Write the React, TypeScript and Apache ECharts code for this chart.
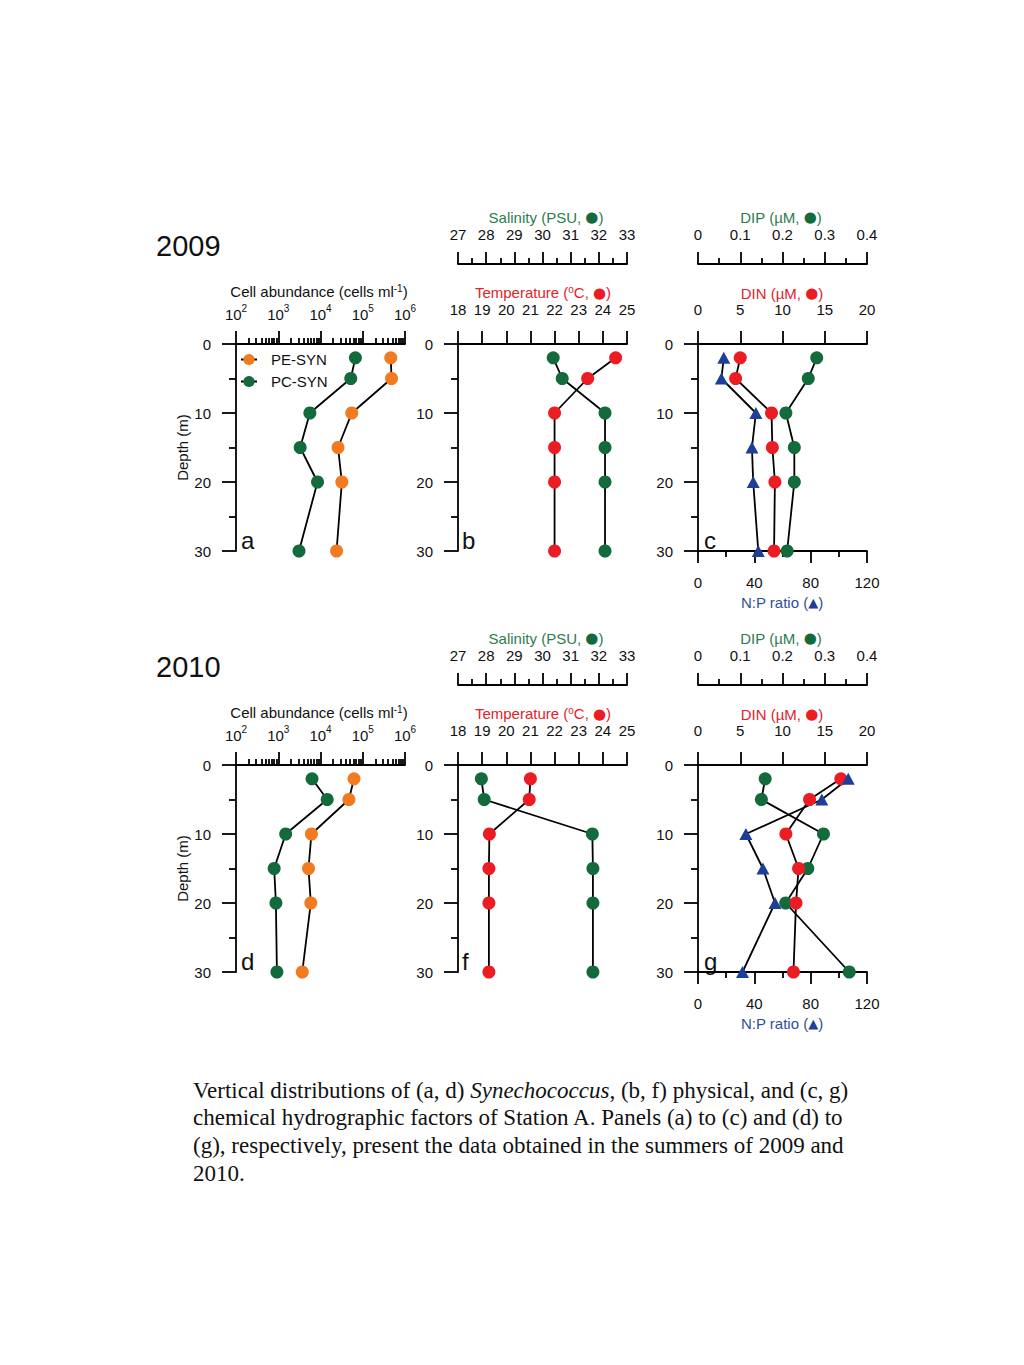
import React, { useEffect, useRef } from "react";
import * as echarts from "echarts";

// ---------------- data ----------------
const DEPTHS = [2, 5, 10, 15, 20, 30];

// 2009 (panels a, b, c)
const PE_SYN_2009 = [4.6e5, 4.8e5, 5.5e4, 2.6e4, 3.2e4, 2.4e4];
const PC_SYN_2009 = [6.7e4, 5.2e4, 5.6e3, 3.3e3, 8.5e3, 3.1e3];
const TEMP_2009 = [24.53, 23.37, 22.0, 22.0, 22.0, 22.0];
const SAL_2009 = [30.38, 30.7, 32.22, 32.22, 32.22, 32.22];
const DIN_2009 = [5.0, 4.45, 8.7, 8.8, 9.1, 9.0];
const DIP_2009 = [0.281, 0.261, 0.208, 0.228, 0.228, 0.211];
const NP_2009 = [18.3, 16.6, 41.1, 38.3, 39.2, 42.8];

// 2010 (panels d, f, g)
const PE_SYN_2010 = [6.2e4, 4.7e4, 6.1e3, 5.2e3, 5.9e3, 3.7e3];
const PC_SYN_2010 = [6.3e3, 1.44e4, 1.5e3, 8.0e2, 8.8e2, 9.3e2];
const TEMP_2010 = [21.0, 20.95, 19.3, 19.28, 19.28, 19.28];
const SAL_2010 = [27.83, 27.93, 31.77, 31.79, 31.79, 31.79];
const DIN_2010 = [16.9, 13.2, 10.4, 11.9, 11.6, 11.3];
const DIP_2010 = [0.159, 0.15, 0.297, 0.26, 0.2075, 0.358];
const NP_2010 = [106.7, 87.9, 34.0, 46.1, 54.7, 31.6];

// axis ranges
const CELL_DECADES = [2, 6]; // 10^2 .. 10^6
const TEMP_RANGE = [18, 25];
const SAL_RANGE = [27, 33];
const DIN_RANGE = [0, 20];
const DIP_RANGE = [0, 0.4];
const NP_RANGE = [0, 120];
const DEPTH_RANGE = [0, 30];

const YEARS = ["2009", "2010"];
const PANEL_LETTERS = [
  ["a", "b", "c"],
  ["d", "f", "g"],
];

const CAPTION_LINES = [
  "Vertical distributions of (a, d) {i|Synechococcus}, (b, f) physical, and (c, g)",
  "chemical hydrographic factors of Station A. Panels (a) to (c) and (d) to",
  "(g), respectively, present the data obtained in the summers of 2009 and",
  "2010.",
];

// ---------------- style ----------------
const SANS = "Liberation Sans, Arial, sans-serif";
const SERIF = "Liberation Serif, Times New Roman, serif";
const ORANGE = "#f27a21";
const GREEN = "#136b3b";
const RED = "#ec1c24";
const BLUE = "#1d3f98";
const GREEN_T = "#2b7d4e";
const RED_T = "#e2232b";
const BLUE_T = "#2d4f9c";
const AX = { color: "#000", width: 1.8 };
const FS = 15;

const COL_LEFT = [236, 458, 698];
const ROW_TOP = [344, 765];
const GW = 169;
const GH = 207;

function App() {
  const ref = useRef<HTMLDivElement>(null);
  useEffect(() => {
    if (!ref.current) return;
    const chart = echarts.init(ref.current, undefined, { renderer: "svg" });

    const grids: any[] = [];
    const xAxes: any[] = [];
    const yAxes: any[] = [];
    const series: any[] = [];
    const graphics: any[] = [];

    const mkX = (o: any) => ({
      type: "value",
      gridIndex: o.grid,
      position: o.pos,
      offset: o.offset || 0,
      min: o.min,
      max: o.max,
      interval: o.interval,
      axisLine: { show: o.line !== false, onZero: false, lineStyle: AX },
      axisTick: {
        show: true,
        length: o.tick,
        lineStyle: AX,
        ...(o.custom ? { customValues: o.custom } : {}),
      },
      minorTick: o.minor
        ? { show: true, splitNumber: o.minor[0], length: o.minor[1], lineStyle: AX }
        : { show: false },
      axisLabel: o.noLabel
        ? { show: false }
        : {
            show: true,
            fontSize: FS,
            color: "#111",
            fontFamily: SANS,
            margin: o.margin,
            formatter: o.fmt,
            rich: o.rich,
          },
      splitLine: { show: false },
      minorSplitLine: { show: false },
    });

    const pts = (xs: number[], f?: (v: number) => number) =>
      DEPTHS.map((d, i) => [f ? f(xs[i]) : xs[i], d]);

    const mkS = (name: string, xi: number, yi: number, data: number[][], color: string, sym = "circle") => ({
      type: "line",
      name,
      xAxisIndex: xi,
      yAxisIndex: yi,
      data,
      symbol: sym,
      symbolSize: sym === "triangle" ? [13, 12] : 13,
      showSymbol: true,
      clip: false,
      itemStyle: { color, opacity: 1 },
      lineStyle: { color: "#000", width: 1.8 },
      emphasis: { disabled: true },
    });

    for (let r = 0; r < 2; r++) {
      const top = ROW_TOP[r];
      const dy = top - 344;
      const pe = r === 0 ? PE_SYN_2009 : PE_SYN_2010;
      const pc = r === 0 ? PC_SYN_2009 : PC_SYN_2010;
      const temp = r === 0 ? TEMP_2009 : TEMP_2010;
      const sal = r === 0 ? SAL_2009 : SAL_2010;
      const din = r === 0 ? DIN_2009 : DIN_2010;
      const dip = r === 0 ? DIP_2009 : DIP_2010;
      const np = r === 0 ? NP_2009 : NP_2010;

      for (let c = 0; c < 3; c++) {
        const g = grids.length;
        grids.push({ left: COL_LEFT[c], top, width: GW, height: GH, containLabel: false });
        yAxes.push({
          type: "value",
          gridIndex: g,
          inverse: true,
          min: DEPTH_RANGE[0],
          max: DEPTH_RANGE[1],
          interval: 10,
          axisLine: { show: true, onZero: false, lineStyle: AX },
          axisTick: { show: true, length: 14, lineStyle: AX },
          minorTick: { show: true, splitNumber: 2, length: 7, lineStyle: AX },
          axisLabel: { fontSize: FS, color: "#111", fontFamily: SANS, margin: 25 },
          splitLine: { show: false },
          minorSplitLine: { show: false },
        });
        const yi = g;
        if (c === 0) {
          const minorVals: number[] = [];
          for (let e = CELL_DECADES[0]; e < CELL_DECADES[1]; e++)
            for (let k = 2; k <= 9; k++) minorVals.push(Math.log10(k * Math.pow(10, e)));
          const xiMain = xAxes.length;
          xAxes.push(
            mkX({
              grid: g, pos: "top", min: CELL_DECADES[0], max: CELL_DECADES[1], interval: 1, tick: 13, margin: 22,
              fmt: (v: number) => `{b|10}{s|${Math.round(v)}}`,
              rich: {
                b: { fontSize: FS, fontFamily: SANS, color: "#111", lineHeight: 19, verticalAlign: "bottom" },
                s: { fontSize: 10, fontFamily: SANS, color: "#111", lineHeight: 10, verticalAlign: "top" },
              },
            })
          );
          xAxes.push(
            mkX({ grid: g, pos: "top", min: CELL_DECADES[0], max: CELL_DECADES[1], interval: 1, tick: 6, line: false, noLabel: true, custom: minorVals })
          );
          series.push(mkS(r === 0 ? "PE-SYN" : "PE-SYN 2010", xiMain, yi, pts(pe, Math.log10), ORANGE));
          series.push(mkS(r === 0 ? "PC-SYN" : "PC-SYN 2010", xiMain, yi, pts(pc, Math.log10), GREEN));
        } else if (c === 1) {
          const xiT = xAxes.length;
          xAxes.push(mkX({ grid: g, pos: "top", min: TEMP_RANGE[0], max: TEMP_RANGE[1], interval: 1, tick: 13, margin: 27 }));
          const xiS = xAxes.length;
          xAxes.push(mkX({ grid: g, pos: "top", offset: 80, min: SAL_RANGE[0], max: SAL_RANGE[1], interval: 1, tick: 12, minor: [2, 6], margin: 22 }));
          series.push(mkS("Salinity " + YEARS[r], xiS, yi, pts(sal), GREEN));
          series.push(mkS("Temperature " + YEARS[r], xiT, yi, pts(temp), RED));
        } else {
          const xiN = xAxes.length;
          xAxes.push(mkX({ grid: g, pos: "top", min: DIN_RANGE[0], max: DIN_RANGE[1], interval: 5, tick: 13, margin: 27 }));
          const xiP = xAxes.length;
          xAxes.push(mkX({ grid: g, pos: "top", offset: 80, min: DIP_RANGE[0], max: DIP_RANGE[1], interval: 0.1, tick: 12, minor: [2, 6], margin: 22 }));
          const xiR = xAxes.length;
          xAxes.push(mkX({ grid: g, pos: "bottom", min: NP_RANGE[0], max: NP_RANGE[1], interval: 40, tick: 12, minor: [2, 6], margin: 24 }));
          series.push(mkS("DIP " + YEARS[r], xiP, yi, pts(dip), GREEN));
          series.push(mkS("DIN " + YEARS[r], xiN, yi, pts(din), RED));
          series.push(mkS("N:P " + YEARS[r], xiR, yi, pts(np), BLUE, "triangle"));
        }
        // panel letter
        graphics.push({
          type: "text",
          x: COL_LEFT[c] + (c === 0 ? 5 : c === 1 ? 4 : 6),
          y: top + 196,
          style: { text: PANEL_LETTERS[r][c], fontSize: 24, fontFamily: SANS, fill: "#111", textAlign: "left", textVerticalAlign: "middle" },
        });
      }

      // year label
      graphics.push({
        type: "text", x: 156, y: 246 + dy,
        style: { text: YEARS[r], fontSize: 29, fontFamily: SANS, fill: "#111", textAlign: "left", textVerticalAlign: "middle" },
      });
      const title = (text: string, x: number, y: number, fill: string, rich: any = {}) =>
        graphics.push({
          type: "text", x, y: y + dy,
          style: { text, fontSize: FS, fontFamily: SANS, fill, textAlign: "center", textVerticalAlign: "middle", rich },
        });
      const supRich = (fill: string) => ({
        n: { fontSize: FS, fontFamily: SANS, fill, lineHeight: 16, verticalAlign: "bottom" },
        sup: { fontSize: 10, fontFamily: SANS, fill, lineHeight: 8, verticalAlign: "top" },
      });
      const dot = (fill: string) => ({ fill, fontSize: 15, fontFamily: "DejaVu Sans", lineHeight: 16, verticalAlign: "bottom" });
      title("{n|Cell abundance (cells ml}{sup|-1}{n|)}", 319, 291, "#111", supRich("#111"));
      title("Salinity (PSU, {g|●})", 546, 217, GREEN_T, { g: { fill: GREEN, fontSize: 15, fontFamily: "DejaVu Sans" } });
      title("{n|Temperature (}{sup|o}{n|C, }{r|●}{n|)}", 543, 292, RED_T, { ...supRich(RED_T), r: dot(RED) });
      title("DIP (µM, {g|●})", 781, 217, GREEN_T, { g: { fill: GREEN, fontSize: 15, fontFamily: "DejaVu Sans" } });
      title("DIN (µM, {r|●})", 782, 293, RED_T, { r: { fill: RED, fontSize: 15, fontFamily: "DejaVu Sans" } });
      title("N:P ratio ({b|▲})", 782, 602, BLUE_T, { b: { fill: BLUE, fontSize: 13, fontFamily: "DejaVu Sans" } });
      graphics.push({
        type: "text", x: 182, y: 447.5 + dy, rotation: Math.PI / 2,
        style: { text: "Depth (m)", fontSize: FS, fontFamily: SANS, fill: "#111", textAlign: "center", textVerticalAlign: "middle" },
      });
    }

    CAPTION_LINES.forEach((line, i) => {
      graphics.push({
        type: "text", x: 193, y: 1090 + i * 27.7,
        style: {
          text: line, fontSize: 23, fontFamily: SERIF, fill: "#111", textAlign: "left", textVerticalAlign: "middle",
          rich: { i: { fontStyle: "italic", fontSize: 23, fontFamily: SERIF, fill: "#111" } },
        },
      });
    });

    chart.setOption({
      animation: false,
      backgroundColor: "#ffffff",
      grid: grids,
      xAxis: xAxes,
      yAxis: yAxes,
      series,
      legend: {
        data: ["PE-SYN", "PC-SYN"],
        orient: "vertical",
        left: 240,
        top: 352,
        padding: 0,
        itemWidth: 16,
        itemHeight: 14,
        itemGap: 7,
        selectedMode: false,
        textStyle: { fontSize: FS, color: "#111", fontFamily: SANS, padding: [0, 0, 0, 9] },
      },
      graphic: graphics,
    });
    return () => chart.dispose();
  }, []);
  return <div ref={ref} style={{ position: "absolute", left: 0, top: 0, width: 1024, height: 1365, background: "#fff" }} />;
}

export default App;
